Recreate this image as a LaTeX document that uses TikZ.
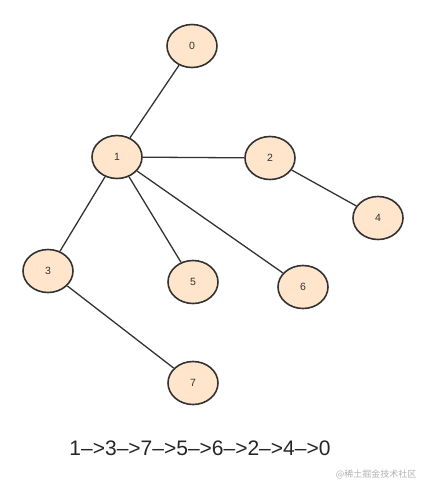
\documentclass[tikz,border=0pt]{standalone}
\usepackage{fontspec}
\setmainfont{Liberation Sans}
\newfontfamily\cjk{Noto Sans CJK SC}
\usetikzlibrary{shapes.geometric}
\begin{document}
\begin{tikzpicture}[x=1pt,y=-1pt,
  vert/.style={ellipse,draw=black!80,line width=1.6pt,fill=orange!20!white,minimum width=50pt,minimum height=43pt,inner sep=0pt,font=\fontsize{10.5}{12}\selectfont,text=black!80},
  edge/.style={draw=black!80,line width=1.3pt}]
\useasboundingbox (0,0) rectangle (428,493);
\fill[white] (0,0) rectangle (428,493);
\node[vert] (n0) at (192,46) {0};
\node[vert] (n1) at (117,157) {1};
\node[vert] (n2) at (270,158) {2};
\node[vert] (n4) at (378,218) {4};
\node[vert] (n3) at (48,271) {3};
\node[vert] (n5) at (193,282) {5};
\node[vert] (n6) at (303,287) {6};
\node[vert] (n7) at (193,383) {7};
\draw[edge] (n0) -- (n1);
\draw[edge] (n1) -- (n2);
\draw[edge] (n2) -- (n4);
\draw[edge] (n1) -- (n3);
\draw[edge] (n1) -- (n5);
\draw[edge] (n1) -- (n6);
\draw[edge] (n3) -- (n7);
\node[font=\fontsize{21}{24}\selectfont,text=black!85] (seq) at (200,448) {1–>3–>7–>5–>6–>2–>4–>0};
\node[font=\cjk\fontsize{9}{11}\selectfont,text=black!30,anchor=east] (wm) at (420,474) {@稀土掘金技术社区};
\end{tikzpicture}
\end{document}
